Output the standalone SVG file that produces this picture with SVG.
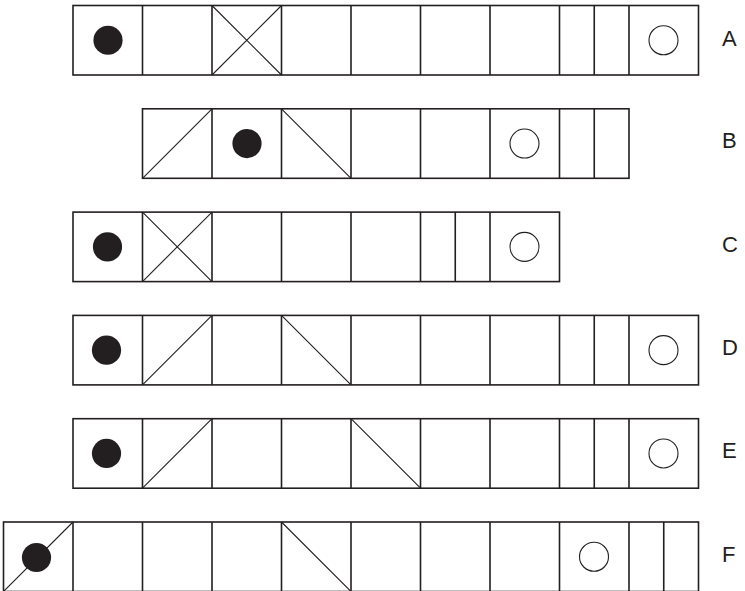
<svg xmlns="http://www.w3.org/2000/svg" width="745" height="591" viewBox="0 0 745 591">
<style>
.b{fill:none;stroke:#231f20;stroke-width:1.6}
.d{fill:none;stroke:#231f20;stroke-width:1.1}
.dot{fill:#231f20}
.o{fill:none;stroke:#231f20;stroke-width:1.1}
.l{font-family:"Liberation Sans",Arial,sans-serif;font-size:22px;fill:#231f20}
</style>
<rect width="745" height="591" fill="#fff"/>
<g id="rowA">
<rect class="b" x="73" y="5.5" width="625.5" height="69.5"/>
<path class="b" d="M142.5 5.5V75M212 5.5V75M281.5 5.5V75M351 5.5V75M420.5 5.5V75M490 5.5V75M559.5 5.5V75M594.25 5.5V75M629 5.5V75"/>
<path class="d" d="M212 5.5L281.5 75M281.5 5.5L212 75"/>
<circle class="dot" cx="108" cy="40.25" r="14.6"/>
<circle class="o" cx="663.5" cy="40.25" r="14.5"/>
<text class="l" x="722" y="46.3">A</text>
</g>
<g id="rowB">
<rect class="b" x="142.5" y="108.8" width="486.5" height="69.5"/>
<path class="b" d="M212 108.8V178.3M281.5 108.8V178.3M351 108.8V178.3M420.5 108.8V178.3M490 108.8V178.3M559.5 108.8V178.3M594.25 108.8V178.3"/>
<path class="d" d="M142.5 178.3L212 108.8M281.5 108.8L351 178.3"/>
<circle class="dot" cx="247" cy="143.55" r="14.6"/>
<circle class="o" cx="524.5" cy="143.55" r="14.5"/>
<text class="l" x="722" y="147.5">B</text>
</g>
<g id="rowC">
<rect class="b" x="73" y="212.1" width="486.5" height="69.5"/>
<path class="b" d="M142.5 212.1V281.6M212 212.1V281.6M281.5 212.1V281.6M351 212.1V281.6M420.5 212.1V281.6M455.25 212.1V281.6M490 212.1V281.6"/>
<path class="d" d="M142.5 212.1L212 281.6M212 212.1L142.5 281.6"/>
<circle class="dot" cx="107.5" cy="246.85" r="14.6"/>
<circle class="o" cx="524.5" cy="246.85" r="14.5"/>
<text class="l" x="722" y="251.8">C</text>
</g>
<g id="rowD">
<rect class="b" x="73" y="315.4" width="625.5" height="69.5"/>
<path class="b" d="M142.5 315.4V384.9M212 315.4V384.9M281.5 315.4V384.9M351 315.4V384.9M420.5 315.4V384.9M490 315.4V384.9M559.5 315.4V384.9M594.25 315.4V384.9M629 315.4V384.9"/>
<path class="d" d="M142.5 384.9L212 315.4M281.5 315.4L351 384.9"/>
<circle class="dot" cx="106.5" cy="350.15" r="14.6"/>
<circle class="o" cx="663.5" cy="350.15" r="14.5"/>
<text class="l" x="722" y="355.1">D</text>
</g>
<g id="rowE">
<rect class="b" x="73" y="418.7" width="625.5" height="69.5"/>
<path class="b" d="M142.5 418.7V488.2M212 418.7V488.2M281.5 418.7V488.2M351 418.7V488.2M420.5 418.7V488.2M490 418.7V488.2M559.5 418.7V488.2M594.25 418.7V488.2M629 418.7V488.2"/>
<path class="d" d="M142.5 488.2L212 418.7M351 418.7L420.5 488.2"/>
<circle class="dot" cx="106.5" cy="453.45" r="14.6"/>
<circle class="o" cx="663.5" cy="453.45" r="14.5"/>
<text class="l" x="722" y="458.4">E</text>
</g>
<g id="rowF">
<rect class="b" x="3.5" y="522" width="695" height="69.5"/>
<path class="b" d="M73 522V591.5M142.5 522V591.5M212 522V591.5M281.5 522V591.5M351 522V591.5M420.5 522V591.5M490 522V591.5M559.5 522V591.5M629 522V591.5M663.75 522V591.5"/>
<path class="d" d="M3.5 591.5L73 522M281.5 522L351 591.5"/>
<circle class="dot" cx="36.5" cy="557.5" r="14.6"/>
<circle class="o" cx="594" cy="556.75" r="14.5"/>
<text class="l" x="722" y="561.7">F</text>
</g>
<g id="connectors"></g>
</svg>
